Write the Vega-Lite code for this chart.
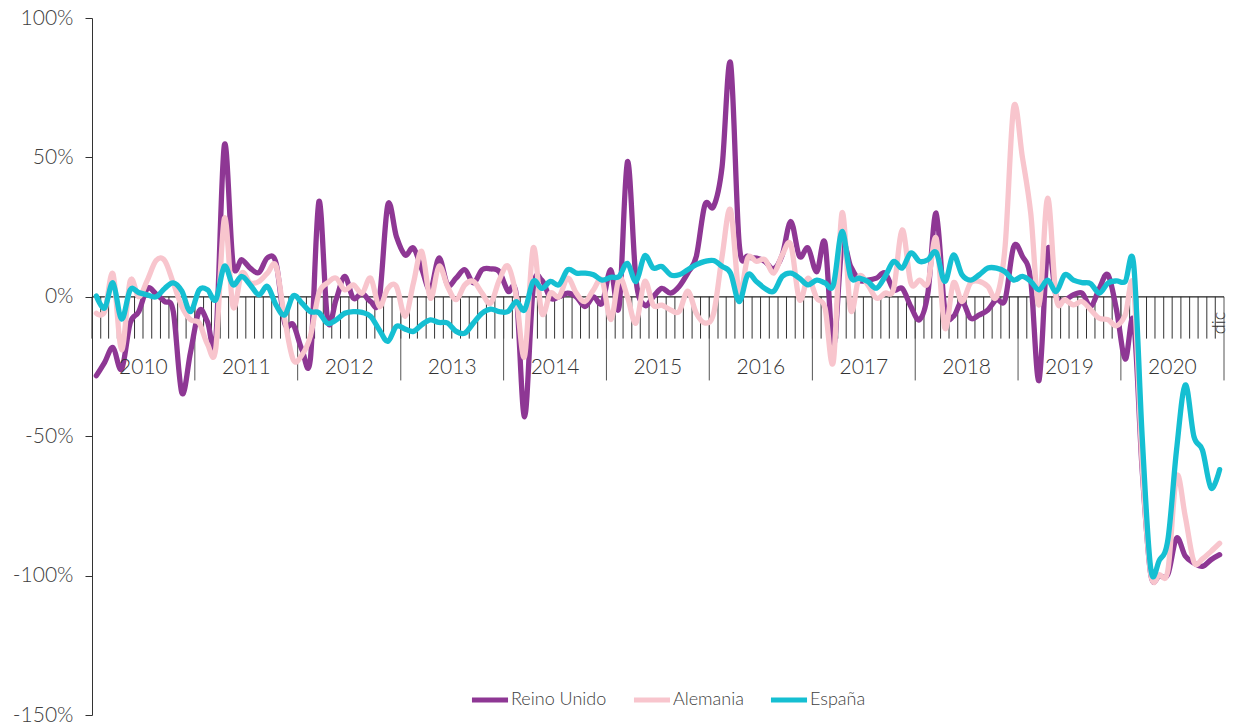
{
  "$schema": "https://vega.github.io/schema/vega-lite/v6.json",
  "width": 1132,
  "height": 697,
  "autosize": {"type": "none"},
  "padding": {"left": 92, "top": 18, "right": 9, "bottom": 11},
  "background": "white",
  "config": {"view": {"stroke": null}, "font": "Lato", "text": {"font": "Lato"}},
  "datasets": {
    "meses": [
      {"fecha": "2010-01", "Reino Unido": -28.3, "Alemania": -5.9, "España": 0.3},
      {"fecha": "2010-02", "Reino Unido": -23.5, "Alemania": -5.3, "España": -4},
      {"fecha": "2010-03", "Reino Unido": -18.2, "Alemania": 8.2, "España": 5},
      {"fecha": "2010-04", "Reino Unido": -26, "Alemania": -19, "España": -8},
      {"fecha": "2010-05", "Reino Unido": -9.4, "Alemania": 5.7, "España": 2.5},
      {"fecha": "2010-06", "Reino Unido": -5.3, "Alemania": 0, "España": 1.5},
      {"fecha": "2010-07", "Reino Unido": 3, "Alemania": 6, "España": 0.7},
      {"fecha": "2010-08", "Reino Unido": 1, "Alemania": 13, "España": 0},
      {"fecha": "2010-09", "Reino Unido": -1.7, "Alemania": 13, "España": 3},
      {"fecha": "2010-10", "Reino Unido": -5.3, "Alemania": 5, "España": 5},
      {"fecha": "2010-11", "Reino Unido": -34.5, "Alemania": -3.5, "España": 2},
      {"fecha": "2010-12", "Reino Unido": -20, "Alemania": -8.2, "España": -5.3},
      {"fecha": "2011-01", "Reino Unido": -5, "Alemania": -9.4, "España": 2.5},
      {"fecha": "2011-02", "Reino Unido": -9, "Alemania": -17, "España": 2.5},
      {"fecha": "2011-03", "Reino Unido": -15, "Alemania": -18.4, "España": -1},
      {"fecha": "2011-04", "Reino Unido": 54.5, "Alemania": 28.2, "España": 11},
      {"fecha": "2011-05", "Reino Unido": 12, "Alemania": -3.5, "España": 4.3},
      {"fecha": "2011-06", "Reino Unido": 13.3, "Alemania": 8.5, "España": 7.3},
      {"fecha": "2011-07", "Reino Unido": 10.3, "Alemania": 5, "España": 4.3},
      {"fecha": "2011-08", "Reino Unido": 8.7, "Alemania": 5.5, "España": 0.7},
      {"fecha": "2011-09", "Reino Unido": 14, "Alemania": 8.5, "España": 3.7},
      {"fecha": "2011-10", "Reino Unido": 12, "Alemania": 11, "España": -3},
      {"fecha": "2011-11", "Reino Unido": -9.4, "Alemania": -8, "España": -6.5},
      {"fecha": "2011-12", "Reino Unido": -10, "Alemania": -22.6, "España": 0.4},
      {"fecha": "2012-01", "Reino Unido": -19, "Alemania": -20.8, "España": -2.3},
      {"fecha": "2012-02", "Reino Unido": -22, "Alemania": -14, "España": -5.3},
      {"fecha": "2012-03", "Reino Unido": 34.2, "Alemania": 1.3, "España": -5.7},
      {"fecha": "2012-04", "Reino Unido": -8.3, "Alemania": 5, "España": -9.5},
      {"fecha": "2012-05", "Reino Unido": -1, "Alemania": 6.7, "España": -8.3},
      {"fecha": "2012-06", "Reino Unido": 7.3, "Alemania": 2.5, "España": -5.9},
      {"fecha": "2012-07", "Reino Unido": -0.5, "Alemania": 4.3, "España": -5.3},
      {"fecha": "2012-08", "Reino Unido": 1.3, "Alemania": 1.3, "España": -5.6},
      {"fecha": "2012-09", "Reino Unido": -1.7, "Alemania": 6.7, "España": -7},
      {"fecha": "2012-10", "Reino Unido": -1, "Alemania": -3.5, "España": -11.8},
      {"fecha": "2012-11", "Reino Unido": 33, "Alemania": 3, "España": -16},
      {"fecha": "2012-12", "Reino Unido": 21.6, "Alemania": 3.7, "España": -10.6},
      {"fecha": "2013-01", "Reino Unido": 15, "Alemania": -7, "España": -11.6},
      {"fecha": "2013-02", "Reino Unido": 17.5, "Alemania": 5, "España": -12.4},
      {"fecha": "2013-03", "Reino Unido": 10, "Alemania": 16.3, "España": -10},
      {"fecha": "2013-04", "Reino Unido": 2.5, "Alemania": -0.5, "España": -8.3},
      {"fecha": "2013-05", "Reino Unido": 13.9, "Alemania": 11, "España": -9.2},
      {"fecha": "2013-06", "Reino Unido": 4.3, "Alemania": 3.7, "España": -9.4},
      {"fecha": "2013-07", "Reino Unido": 6.7, "Alemania": -1, "España": -12.4},
      {"fecha": "2013-08", "Reino Unido": 9.7, "Alemania": 4.3, "España": -13},
      {"fecha": "2013-09", "Reino Unido": 5, "Alemania": 5.5, "España": -9.4},
      {"fecha": "2013-10", "Reino Unido": 9.7, "Alemania": 1.3, "España": -5.9},
      {"fecha": "2013-11", "Reino Unido": 10, "Alemania": -2.3, "España": -4.4},
      {"fecha": "2013-12", "Reino Unido": 9, "Alemania": 6, "España": -5.3},
      {"fecha": "2014-01", "Reino Unido": 2, "Alemania": 11, "España": -5.3},
      {"fecha": "2014-02", "Reino Unido": 0.7, "Alemania": 0, "España": -1.7},
      {"fecha": "2014-03", "Reino Unido": -43, "Alemania": -21.4, "España": -4.7},
      {"fecha": "2014-04", "Reino Unido": 3, "Alemania": 17.5, "España": 5.5},
      {"fecha": "2014-05", "Reino Unido": 6, "Alemania": -5.9, "España": 3},
      {"fecha": "2014-06", "Reino Unido": -0.5, "Alemania": 1.3, "España": 5.5},
      {"fecha": "2014-07", "Reino Unido": 0, "Alemania": 0, "España": 4.3},
      {"fecha": "2014-08", "Reino Unido": 1.3, "Alemania": 6.7, "España": 9.7},
      {"fecha": "2014-09", "Reino Unido": 0, "Alemania": 1.3, "España": 8.5},
      {"fecha": "2014-10", "Reino Unido": -3.5, "Alemania": -1.7, "España": 8.5},
      {"fecha": "2014-11", "Reino Unido": 0, "Alemania": 2.5, "España": 7.9},
      {"fecha": "2014-12", "Reino Unido": -2.3, "Alemania": 6, "España": 6},
      {"fecha": "2015-01", "Reino Unido": 9.7, "Alemania": -8.2, "España": 7},
      {"fecha": "2015-02", "Reino Unido": -3.5, "Alemania": 6.7, "España": 7.3},
      {"fecha": "2015-03", "Reino Unido": 48.5, "Alemania": 0, "España": 12},
      {"fecha": "2015-04", "Reino Unido": 6, "Alemania": -9.4, "España": 5.5},
      {"fecha": "2015-05", "Reino Unido": -3, "Alemania": 5.5, "España": 14.7},
      {"fecha": "2015-06", "Reino Unido": 0, "Alemania": -3, "España": 10.3},
      {"fecha": "2015-07", "Reino Unido": 3, "Alemania": -3, "España": 10.9},
      {"fecha": "2015-08", "Reino Unido": 1.3, "Alemania": -4.7, "España": 7.9},
      {"fecha": "2015-09", "Reino Unido": 3.7, "Alemania": -5.3, "España": 7.9},
      {"fecha": "2015-10", "Reino Unido": 8.5, "Alemania": 2, "España": 9.7},
      {"fecha": "2015-11", "Reino Unido": 14.5, "Alemania": -5.9, "España": 11.5},
      {"fecha": "2015-12", "Reino Unido": 33, "Alemania": -9.4, "España": 12.7},
      {"fecha": "2016-01", "Reino Unido": 32.4, "Alemania": -5.9, "España": 13},
      {"fecha": "2016-02", "Reino Unido": 46.7, "Alemania": 14.5, "España": 10.9},
      {"fecha": "2016-03", "Reino Unido": 83.8, "Alemania": 31.2, "España": 8.5},
      {"fecha": "2016-04", "Reino Unido": 19.2, "Alemania": 1.3, "España": -1.7},
      {"fecha": "2016-05", "Reino Unido": 14.5, "Alemania": 13.9, "España": 7.9},
      {"fecha": "2016-06", "Reino Unido": 13.9, "Alemania": 12.7, "España": 5.5},
      {"fecha": "2016-07", "Reino Unido": 12.7, "Alemania": 13.3, "España": 3},
      {"fecha": "2016-08", "Reino Unido": 10, "Alemania": 8.5, "España": 2},
      {"fecha": "2016-09", "Reino Unido": 15, "Alemania": 15, "España": 7.3},
      {"fecha": "2016-10", "Reino Unido": 27, "Alemania": 18.7, "España": 8.5},
      {"fecha": "2016-11", "Reino Unido": 14.5, "Alemania": -1, "España": 6.7},
      {"fecha": "2016-12", "Reino Unido": 17.5, "Alemania": 6.7, "España": 4.3},
      {"fecha": "2017-01", "Reino Unido": 9, "Alemania": -0.5, "España": 6},
      {"fecha": "2017-02", "Reino Unido": 19.2, "Alemania": -4, "España": 5},
      {"fecha": "2017-03", "Reino Unido": -17.8, "Alemania": -23.2, "España": 4.3},
      {"fecha": "2017-04", "Reino Unido": 18, "Alemania": 30, "España": 23.4},
      {"fecha": "2017-05", "Reino Unido": 11, "Alemania": -4.7, "España": 7.3},
      {"fecha": "2017-06", "Reino Unido": 6, "Alemania": 7.3, "España": 6.7},
      {"fecha": "2017-07", "Reino Unido": 6, "Alemania": 4.3, "España": 5.5},
      {"fecha": "2017-08", "Reino Unido": 6.7, "Alemania": -0.5, "España": 3.1},
      {"fecha": "2017-09", "Reino Unido": 8.5, "Alemania": 1.3, "España": 7.3},
      {"fecha": "2017-10", "Reino Unido": 2.5, "Alemania": 3, "España": 12.7},
      {"fecha": "2017-11", "Reino Unido": 3, "Alemania": 24, "España": 10.3},
      {"fecha": "2017-12", "Reino Unido": -3.5, "Alemania": 5, "España": 15.7},
      {"fecha": "2018-01", "Reino Unido": -8.2, "Alemania": 6, "España": 12.7},
      {"fecha": "2018-02", "Reino Unido": 1.3, "Alemania": 5, "España": 13.3},
      {"fecha": "2018-03", "Reino Unido": 30, "Alemania": 21, "España": 15.9},
      {"fecha": "2018-04", "Reino Unido": -4.7, "Alemania": -11.2, "España": 5.5},
      {"fecha": "2018-05", "Reino Unido": -7, "Alemania": 5, "España": 15},
      {"fecha": "2018-06", "Reino Unido": -1.7, "Alemania": -1.7, "España": 7.9},
      {"fecha": "2018-07", "Reino Unido": -7.7, "Alemania": 5, "España": 6},
      {"fecha": "2018-08", "Reino Unido": -6.5, "Alemania": 5.5, "España": 7.9},
      {"fecha": "2018-09", "Reino Unido": -4.7, "Alemania": 3.7, "España": 10.3},
      {"fecha": "2018-10", "Reino Unido": -1, "Alemania": 0, "España": 10.3},
      {"fecha": "2018-11", "Reino Unido": -1, "Alemania": 18, "España": 9},
      {"fecha": "2018-12", "Reino Unido": 18, "Alemania": 68, "España": 6},
      {"fecha": "2019-01", "Reino Unido": 14.5, "Alemania": 50, "España": 7.3},
      {"fecha": "2019-02", "Reino Unido": 6, "Alemania": 30, "España": 5.5},
      {"fecha": "2019-03", "Reino Unido": -30, "Alemania": -2.9, "España": 2.5},
      {"fecha": "2019-04", "Reino Unido": 16.9, "Alemania": 35.4, "España": 6},
      {"fecha": "2019-05", "Reino Unido": 0, "Alemania": -0.5, "España": 1.9},
      {"fecha": "2019-06", "Reino Unido": -1, "Alemania": -1, "España": 7.9},
      {"fecha": "2019-07", "Reino Unido": 0.7, "Alemania": -2.9, "España": 6},
      {"fecha": "2019-08", "Reino Unido": 1.3, "Alemania": -1.7, "España": 5.1},
      {"fecha": "2019-09", "Reino Unido": -3.5, "Alemania": -4.7, "España": 4.7},
      {"fecha": "2019-10", "Reino Unido": 3, "Alemania": -7.7, "España": 1.3},
      {"fecha": "2019-11", "Reino Unido": 7.9, "Alemania": -8.2, "España": 4.9},
      {"fecha": "2019-12", "Reino Unido": -4.7, "Alemania": -10.4, "España": 5.7},
      {"fecha": "2020-01", "Reino Unido": -22.3, "Alemania": -6.5, "España": 5.5},
      {"fecha": "2020-02", "Reino Unido": -9, "Alemania": 3.1, "España": 11.5},
      {"fecha": "2020-03", "Reino Unido": -62, "Alemania": -60, "España": -50},
      {"fecha": "2020-04", "Reino Unido": -99.5, "Alemania": -99.5, "España": -97.5},
      {"fecha": "2020-05", "Reino Unido": -100, "Alemania": -99.7, "España": -94.5},
      {"fecha": "2020-06", "Reino Unido": -99.5, "Alemania": -98, "España": -87},
      {"fecha": "2020-07", "Reino Unido": -86.6, "Alemania": -64.4, "España": -55},
      {"fecha": "2020-08", "Reino Unido": -93, "Alemania": -78.8, "España": -31.6},
      {"fecha": "2020-09", "Reino Unido": -95.5, "Alemania": -95, "España": -50},
      {"fecha": "2020-10", "Reino Unido": -96.7, "Alemania": -94, "España": -55},
      {"fecha": "2020-11", "Reino Unido": -94.3, "Alemania": -91.3, "España": -68.6},
      {"fecha": "2020-12", "Reino Unido": -92.5, "Alemania": -88.4, "España": -62}
    ],
    "anios": [
      {"anio": "2010"}, {"anio": "2011"}, {"anio": "2012"}, {"anio": "2013"},
      {"anio": "2014"}, {"anio": "2015"}, {"anio": "2016"}, {"anio": "2017"},
      {"anio": "2018"}, {"anio": "2019"}, {"anio": "2020"}
    ],
    "cierre": [{"fecha": "2020-12", "etiqueta": "dic"}]
  },
  "layer": [
    {
      "data": {"name": "meses"},
      "mark": {"type": "rule", "color": "#333333", "strokeWidth": 1},
      "encoding": {
        "x": {"field": "fecha", "type": "temporal", "timeUnit": "utcyearmonth",
              "scale": {"type": "utc", "domain": [{"year": 2010, "month": 1, "date": 1, "utc": true}, {"year": 2021, "month": 1, "date": 1, "utc": true}]},
              "axis": null},
        "y": {"datum": 0, "scale": {"domain": [-150, 100], "nice": false, "zero": false}},
        "y2": {"datum": -15}
      }
    },
    {
      "data": {"name": "anios"},
      "mark": {"type": "rule", "color": "#555555", "strokeWidth": 1},
      "encoding": {
        "x": {"field": "anio", "type": "temporal", "timeUnit": "utcyear", "bandPosition": 1, "axis": null},
        "y": {"datum": 0},
        "y2": {"datum": -30}
      }
    },
    {
      "data": {"values": [{}]},
      "mark": {"type": "rule", "color": "#222222", "strokeWidth": 1.3},
      "encoding": {"y": {"datum": 0}}
    },
    {
      "data": {"name": "meses"},
      "transform": [{"fold": ["Reino Unido", "Alemania", "España"], "as": ["serie", "valor"]}],
      "mark": {"type": "line", "interpolate": "cardinal", "strokeWidth": 5.3, "strokeCap": "round", "strokeJoin": "round"},
      "encoding": {
        "x": {"field": "fecha", "type": "temporal", "timeUnit": "utcyearmonth", "bandPosition": 0.5, "axis": null},
        "y": {"field": "valor", "type": "quantitative",
              "axis": {"values": [-150, -100, -50, 0, 50, 100], "labelExpr": "datum.value + '%'", "title": null, "grid": false,
                       "domainColor": "#333333", "tickColor": "#333333", "tickSize": 7, "labelPadding": 12,
                       "labelFont": "Lato", "labelFontSize": 21, "labelFontWeight": 300, "labelColor": "#404040"}},
        "color": {"field": "serie", "type": "nominal",
                  "scale": {"domain": ["Reino Unido", "Alemania", "España"], "range": ["#8E3794", "#F8C5CD", "#15BFD2"]},
                  "legend": {"orient": "none", "legendX": 377, "legendY": 661, "direction": "horizontal", "title": null,
                             "symbolType": "stroke", "symbolSize": 1300, "symbolStrokeWidth": 5, "labelOffset": 0,
                             "labelFont": "Lato", "labelFontSize": 18, "labelFontWeight": 300, "labelColor": "#404040",
                             "columnPadding": 16, "padding": 0}}
      }
    },
    {
      "data": {"name": "anios"},
      "mark": {"type": "text", "fontSize": 21, "fontWeight": 300, "color": "#333333", "baseline": "middle", "align": "center"},
      "encoding": {
        "x": {"field": "anio", "type": "temporal", "timeUnit": "utcyear", "bandPosition": 0.5, "axis": null},
        "y": {"datum": -25.4},
        "text": {"field": "anio", "type": "temporal", "timeUnit": "utcyear", "format": "%Y"}
      }
    },
    {
      "data": {"name": "cierre"},
      "mark": {"type": "text", "fontSize": 18, "fontWeight": 300, "color": "#333333", "baseline": "middle", "align": "right", "angle": 270},
      "encoding": {
        "x": {"field": "fecha", "type": "temporal", "timeUnit": "utcyearmonth", "bandPosition": 0.5, "axis": null},
        "y": {"datum": -5.4},
        "text": {"field": "etiqueta", "type": "nominal"}
      }
    }
  ]
}
